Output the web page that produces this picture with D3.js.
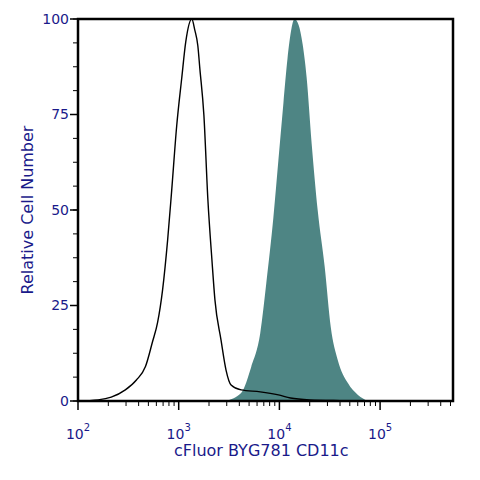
<!DOCTYPE html>
<html>
<head>
<meta charset="utf-8">
<script src="https://cdn.jsdelivr.net/npm/d3@7"></script>
<style>
  body { margin: 0; background: #fff; }
  text { font-family: "DejaVu Sans", sans-serif; fill: #1a1a8a; }
</style>
</head>
<body>
<div id="chart"></div>
<script>
// log10 of fluorescence, relative count (%)
const controlLog = [2.00, 2.20, 2.33, 2.47, 2.58, 2.67, 2.74, 2.79, 2.84, 2.89, 2.93, 2.98, 3.03, 3.07, 3.13,
  3.16, 3.19, 3.21, 3.25, 3.29, 3.33, 3.36, 3.42, 3.47, 3.52, 3.62, 3.81, 3.99, 4.11, 4.30, 4.60, 4.98];
const controlCount = [0, 0.3, 1.0, 2.9, 5.5, 9.0, 15.5, 20.5, 29.1, 42.1, 55.0, 72.0, 84.5, 94.0, 100,
  97.1, 93.0, 87.0, 74.9, 52.6, 36.9, 26.4, 16.0, 8.1, 4.2, 2.9, 2.4, 1.6, 0.8, 0.3, 0.1, 0];
const stainedLog = [3.46, 3.62, 3.72, 3.81, 3.87, 3.94, 3.99, 4.04, 4.08, 4.12, 4.15, 4.19, 4.23, 4.27, 4.32, 4.38,
  4.45, 4.51, 4.58, 4.68, 4.78, 4.88];
const stainedCount = [0, 2.1, 8.9, 17.8, 30.9, 48, 63, 78, 89.5, 97.5, 100, 98.5, 93.5, 84.8, 67.5, 50,
  35.1, 19.4, 10.7, 4.7, 1.6, 0];
const yTicks = [0, 25, 50, 75, 100];
const xDecades = [2, 3, 4, 5];

const margin = { top: 19, right: 27, bottom: 79, left: 78 };
const W = 480, H = 480;
const w = W - margin.left - margin.right, h = H - margin.top - margin.bottom;

const svg = d3.select('#chart').append('svg').attr('width', W).attr('height', H);
const g = svg.append('g').attr('transform', `translate(${margin.left},${margin.top})`);

const x = d3.scaleLinear().domain([2, 2 + w / 100.7]).range([0, w]);
const y = d3.scaleLinear().domain([0, 100]).range([h, 0]);

const line = d3.line().x(d => x(d[0])).y(d => y(d[1])).curve(d3.curveMonotoneX);
const area = d3.area().x(d => x(d[0])).y0(h).y1(d => y(d[1])).curve(d3.curveMonotoneX);

g.append('path').datum(d3.zip(stainedLog, stainedCount))
  .attr('d', area).attr('fill', '#4e8584');
g.append('path').datum(d3.zip(controlLog, controlCount))
  .attr('d', line).attr('fill', 'none').attr('stroke', '#000').attr('stroke-width', 1.4);

// minor/major x ticks
const minor = [];
for (let k = 2; k <= 5; k++) for (let m = 2; m <= 9; m++) {
  const v = k + Math.log10(m);
  if (v <= x.domain()[1]) minor.push(v);
}
g.selectAll('.xmin').data(minor).join('line')
  .attr('x1', d => x(d)).attr('x2', d => x(d)).attr('y1', h).attr('y2', h + 5)
  .attr('stroke', '#000').attr('stroke-width', 1);
g.selectAll('.xmaj').data(xDecades).join('line')
  .attr('x1', d => x(d)).attr('x2', d => x(d)).attr('y1', h).attr('y2', h + 9)
  .attr('stroke', '#000').attr('stroke-width', 1.5);
const xl = g.selectAll('.xl').data(xDecades).join('text')
  .attr('x', d => x(d)).attr('y', h + 38).attr('text-anchor', 'middle').attr('font-size', 14);
xl.append('tspan').text('10');
xl.append('tspan').attr('dy', -8).attr('font-size', 10).text(d => d);

// y ticks
const yMinor = d3.range(0, 100.1, 6.25);
g.selectAll('.ymin').data(yMinor).join('line')
  .attr('x1', -5).attr('x2', 0).attr('y1', d => y(d)).attr('y2', d => y(d))
  .attr('stroke', '#000').attr('stroke-width', 1);
g.selectAll('.ymaj').data(yTicks).join('line')
  .attr('x1', -8).attr('x2', 0).attr('y1', d => y(d)).attr('y2', d => y(d))
  .attr('stroke', '#000').attr('stroke-width', 1.5);
g.selectAll('.yl').data(yTicks).join('text')
  .attr('x', -9).attr('y', d => y(d)).attr('dy', '0.35em').attr('text-anchor', 'end')
  .attr('font-size', 14).text(d => d);

g.append('rect').attr('width', w).attr('height', h)
  .attr('fill', 'none').attr('stroke', '#000').attr('stroke-width', 2.5);

svg.append('text').attr('x', margin.left + x(3.82)).attr('y', 456).attr('text-anchor', 'middle')
  .attr('font-size', 16).text('cFluor BYG781 CD11c');
svg.append('text').attr('transform', `translate(33,${margin.top + h / 2}) rotate(-90)`)
  .attr('text-anchor', 'middle').attr('font-size', 16).text('Relative Cell Number');
</script>
</body>
</html>
